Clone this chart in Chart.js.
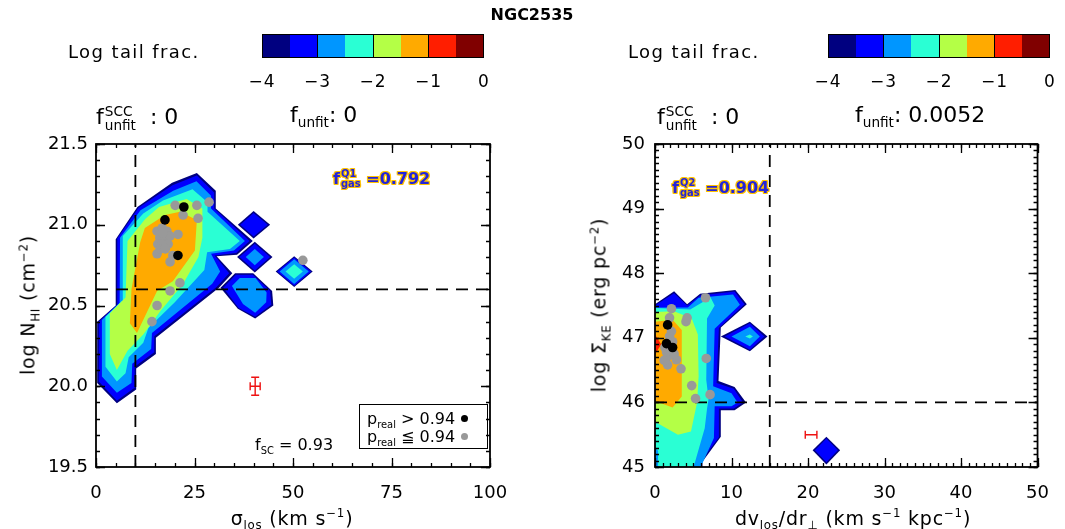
<!DOCTYPE html>
<html>
<head>
<meta charset="utf-8">
<script src="https://cdn.jsdelivr.net/npm/chart.js@4.4.0/dist/chart.umd.min.js"></script>
<style>
  body { margin: 0; background: #fff; }
  #page { position: relative; width: 1065px; height: 529px; overflow: hidden;
          font-family: 'DejaVu Sans', sans-serif; color: #000; }
  .panel { position: absolute; top: 0; height: 529px; }
  .txt { position: absolute; white-space: nowrap; line-height: 1; }
  .cbar { position: absolute; top: 34px; height: 24px; display: flex; border: 1px solid #000; box-sizing: border-box; }
  .cbar div { flex: 1; }
  .cbar div.sep { border-right: 1.5px solid #000; }
  .cbtick { position: absolute; top: 71px; font-size: 17px; transform: translateX(-50%); letter-spacing: 1px; }
  .stk { display: inline-block; vertical-align: middle; font-size: 0.62em; line-height: 1.05; margin-left: 1px; }
  .stk span { display: block; }
  sub, sup { font-size: 0.62em; line-height: 0; }
  .gas { color: #2424d8; font-weight: bold; font-size: 16px;
         text-shadow: 1px 0 #ffc400, -1px 0 #ffc400, 0 1px #ffc400, 0 -1px #ffc400,
                      1px 1px #ffc400, -1px -1px #ffc400, 1px -1px #ffc400, -1px 1px #ffc400; }
  .legend { position: absolute; left: 359px; top: 404px; width: 129px; height: 45px; border: 1px solid #000;
            box-sizing: border-box; font-size: 16px; padding: 5px 0 0 7px; line-height: 18px; }
  .dot { display: inline-block; width: 7px; height: 7px; border-radius: 50%; margin-left: 6px; vertical-align: 2px; }
  .axt { font-size: 19px; letter-spacing: 0.8px; }
</style>
</head>
<body>
<div id="page">
  <div class="panel" style="left:0;width:530px;"><canvas id="nhiChart"></canvas></div>
  <div class="panel" style="left:530px;width:535px;"><canvas id="keChart"></canvas></div>

  <div class="txt" style="left:532px;top:7px;font-weight:bold;font-size:16px;transform:translateX(-50%);">NGC2535</div>

  <div class="txt" style="left:68px;top:43px;font-size:18px;letter-spacing:1.4px;">Log tail frac.</div>
  <div class="cbar" id="cbarL" style="left:262px;width:222px;"></div>
  <div id="cbarLTicks"></div>
  <div class="txt" style="left:628px;top:43px;font-size:18px;letter-spacing:1.4px;">Log tail frac.</div>
  <div class="cbar" id="cbarR" style="left:828px;width:222px;"></div>
  <div id="cbarRTicks"></div>

  <div class="txt" style="left:96px;top:104px;font-size:22px;">f<span class="stk"><span>SCC</span><span>unfit</span></span>&nbsp;&nbsp;: 0</div>
  <div class="txt" style="left:290px;top:104px;font-size:22px;">f<sub>unfit</sub>: 0</div>
  <div class="txt" style="left:657px;top:104px;font-size:22px;">f<span class="stk"><span>SCC</span><span>unfit</span></span>&nbsp;&nbsp;: 0</div>
  <div class="txt" style="left:855px;top:104px;font-size:22px;">f<sub>unfit</sub>: 0.0052</div>

  <div class="txt gas" style="left:333px;top:169px;">f<span class="stk"><span>Q1</span><span>gas</span></span> =0.792</div>
  <div class="txt gas" style="left:672px;top:178px;">f<span class="stk"><span>Q2</span><span>gas</span></span> =0.904</div>

  <div class="txt" style="left:255px;top:437px;font-size:16px;">f<sub>SC</sub> = 0.93</div>
  <div class="legend">p<sub>real</sub> &gt; 0.94<span class="dot" style="background:#000"></span><br>p<sub>real</sub> ≦ 0.94<span class="dot" style="background:#999"></span></div>

  <div class="txt axt" style="left:28px;top:305px;transform:translate(-50%,-50%) rotate(-90deg);">log N<sub>HI</sub> (cm<sup>−2</sup>)</div>
  <div class="txt axt" style="left:292px;top:518px;transform:translate(-50%,-50%);">σ<sub>los</sub> (km s<sup>−1</sup>)</div>
  <div class="txt axt" style="left:599px;top:305px;transform:translate(-50%,-50%) rotate(-90deg);">log Σ<sub>KE</sub> (erg pc<sup>−2</sup>)</div>
  <div class="txt axt" style="left:853px;top:518px;transform:translate(-50%,-50%);">dv<sub>los</sub>/dr<sub>⊥</sub> (km s<sup>−1</sup> kpc<sup>−1</sup>)</div>
</div>

<script>
// ---- colour levels of the log tail fraction (-4 .. 0 in steps of 0.5)
const levelColors = ['#000080', '#0000ff', '#0096ff', '#2affd4', '#b4ff46', '#ffaa00', '#ff1e00', '#800000'];
const levelTicks = [-4, -3, -2, -1, 0];

// ---- left panel: sigma_los vs log N_HI, filled contours [x, y]
const nhiNavy = [[19.3,21.26],[25.6,21.32],[30.4,21.21],[30.4,21.1],[39.8,20.90],[35.8,20.815],[30.6,20.805],[34.6,20.70],[31.2,20.61],[15.2,20.30],[15.2,20.20],[10.2,20.11],[10.2,19.98],[5.3,19.895],[0.3,20.02],[0.3,20.40],[5,20.50],[5,20.91],[10.5,21.11]];
const nhiBlue = [[19.4,21.245],[25.6,21.305],[30,21.2],[30,21.1],[39,20.9],[35.6,20.825],[30.1,20.81],[33.8,20.70],[30.6,20.615],[14.8,20.31],[14.8,20.21],[9.8,20.12],[9.8,19.99],[5.3,19.91],[0.7,20.03],[0.7,20.40],[5.4,20.505],[5.4,20.915],[10.8,21.105]];
const nhiSky = [[19.6,21.21],[25.5,21.27],[29.2,21.18],[29.2,21.1],[37.8,20.9],[35,20.84],[29.2,20.82],[31.5,20.71],[29.5,20.635],[14.2,20.33],[14,20.23],[9.2,20.14],[9,20.02],[5.3,19.96],[1.5,20.06],[1.5,20.41],[6,20.515],[6.1,20.92],[11.3,21.09]];
const nhiCyan = [[17,21.15],[24.5,21.22],[28.3,21.14],[28.3,21.08],[36.5,20.9],[34,20.85],[28.2,20.83],[27.5,20.72],[20,20.52],[13.3,20.36],[12,20.27],[8.3,20.18],[7.5,20.08],[5.3,20.03],[2.4,20.12],[2.4,20.43],[6.6,20.53],[6.8,20.93],[12,21.07]];
const nhiGreen = [[16,21.11],[23,21.16],[27,21.1],[27,20.92],[26,20.8],[22,20.63],[16.5,20.47],[12,20.32],[8,20.22],[5.3,20.1],[3.5,20.2],[3.5,20.45],[7.5,20.55],[8,20.9],[12.5,21.035]];
const nhiOrange = [[21.3,21.08],[25.6,21.03],[25.1,20.84],[19.5,20.65],[15.5,20.59],[10.4,20.33],[8.6,20.39],[9,20.6],[11.2,20.89],[12.4,20.98],[17.5,21.06]];
const nhiLowNavy = [[31.6,20.61],[35.3,20.70],[39.9,20.70],[44.7,20.59],[45,20.50],[40.4,20.42],[36,20.48]];
const nhiLowBlue = [[32.3,20.61],[35.5,20.69],[39.8,20.69],[44.2,20.59],[44.5,20.505],[40.4,20.43],[36.2,20.485]];
const nhiLowSky = [[34.5,20.62],[36.5,20.67],[40.5,20.67],[43.3,20.58],[43.2,20.52],[40.4,20.455],[37.3,20.51]];
const nhiDiamA = [[[36,21.0],[40,21.085],[44.2,21.0],[40,20.915]], [[36.6,21.0],[40,21.073],[43.6,21.0],[40,20.927]]];
const nhiDiamB = [[[35.8,20.8],[40.3,20.895],[44.8,20.8],[40.3,20.705]], [[36.4,20.8],[40.3,20.883],[44.2,20.8],[40.3,20.717]], [[38,20.8],[40.3,20.85],[42.6,20.8],[40.3,20.75]]];
const nhiDiamC = [[[45.6,20.71],[50.3,20.805],[55,20.71],[50.3,20.615]], [[46,20.71],[50.3,20.797],[54.6,20.71],[50.3,20.623]], [[46.6,20.71],[50.3,20.787],[54,20.71],[50.3,20.633]], [[48.1,20.71],[50.3,20.755],[52.5,20.71],[50.3,20.665]]];
const nhiGray = [[20.1,21.12],[25.6,21.12],[25.9,21.04],[28.7,21.14],[22.1,21.06],[15.5,20.96],[16.8,20.98],[18.0,20.96],[16.2,20.92],[17.5,20.92],[18.8,20.93],[20.8,20.94],[15.7,20.88],[18.3,20.88],[16.8,20.88],[15.5,20.82],[19.5,20.81],[18.8,20.77],[21.3,20.64],[18.8,20.59],[15.5,20.50],[14.2,20.40],[52.5,20.78],[17,20.95],[16.3,20.85],[17.6,20.85]];
const nhiBlack = [[22.3,21.11],[17.5,21.03],[20.8,20.81]];
const nhiCut = [10, 20.6];
const nhiErr = [40.4, 20.0, 1.27, 0.056];

// ---- right panel: dv/dr vs log Sigma_KE
const keNavy = [[0,47.52],[2.5,47.72],[4.2,47.52],[5.9,47.68],[10.5,47.74],[12.0,47.52],[8.6,47.16],[8.3,46.33],[10.4,46.24],[11.9,46.0],[10.4,45.88],[8.6,45.88],[8.6,45.47],[6.2,45.08],[6.2,44.9],[0,44.9]];
const keBlue = [[0,47.5],[2.5,47.69],[4.2,47.5],[5.9,47.655],[10.4,47.715],[11.7,47.52],[8.35,47.15],[8.05,46.3],[10.3,46.21],[11.5,46.0],[10.3,45.905],[8.35,45.905],[8.35,45.46],[5.95,45.08],[5.95,44.9],[0,44.9]];
const keSky = [[0,47.47],[4.3,47.47],[5.7,47.62],[10.2,47.67],[11.1,47.51],[7.8,47.14],[7.6,46.25],[10,46.14],[10.8,46.0],[10,45.94],[7.8,45.94],[7.7,45.45],[5.6,44.9],[0,44.9]];
const keCyan = [[0,47.46],[4.6,47.44],[6.2,47.55],[7.2,47.64],[7.8,47.5],[6.8,47.3],[6.7,46.35],[7.0,46.05],[6.8,45.9],[6.5,45.6],[4.8,44.9],[0.4,44.9],[0.4,45.25],[0,45.3]];
const keGreen = [[0,47.4],[2.5,47.41],[4.8,47.3],[5.6,47.05],[5.7,46.4],[5.5,46.0],[4.7,45.55],[3.0,45.5],[0,45.7]];
const keOrange = [[0,47.25],[2.3,47.28],[3.5,47.12],[3.5,46.09],[2.3,45.92],[0,46.02]];
const keRed = [[0,47.05],[0.8,46.9],[0,46.74]];
const keDiamA = [[[8.6,47.02],[12.4,47.25],[14.7,47.02],[12.4,46.79]], [[9.1,47.02],[12.4,47.225],[14.3,47.02],[12.4,46.815]], [[10,47.02],[12.4,47.17],[13.7,47.02],[12.4,46.87]], [[11.8,47.02],[12.4,47.05],[12.8,47.02],[12.4,46.99]]];
const keDiamB = [[[20.6,45.26],[22.4,45.47],[24.2,45.26],[22.4,45.04]], [[20.9,45.26],[22.4,45.44],[23.9,45.26],[22.4,45.075]]];
const keGray = [[2.15,47.45],[1.9,47.31],[4.2,47.31],[4.05,47.25],[2.15,47.10],[1.9,47.02],[2.3,46.94],[2.15,46.82],[1.65,46.71],[2.8,46.66],[1.65,46.58],[3.4,46.52],[6.7,46.68],[4.8,46.26],[5.3,46.06],[7.2,46.12],[6.6,47.62],[1.3,46.85],[1.5,46.78],[2.5,46.75],[1.2,46.65]];
const keBlack = [[1.65,47.2],[1.5,46.91],[2.3,46.85]];
const keCut = [15, 46];
const keErr = [20.4, 45.5, 0.76, 0];

// ---- colour bars
function buildColorbar(id, ticksId, left, width) {
    const bar = document.getElementById(id);
    levelColors.forEach((c, i) => {
        const d = document.createElement('div');
        d.style.background = c;
        if (i % 2 === 1 && i < levelColors.length - 1) d.className = 'sep';
        bar.appendChild(d);
    });
    const holder = document.getElementById(ticksId);
    levelTicks.forEach(t => {
        const s = document.createElement('div');
        s.className = 'cbtick';
        s.style.left = (left + (t - levelTicks[0]) / (levelTicks[levelTicks.length - 1] - levelTicks[0]) * width) + 'px';
        s.textContent = t < 0 ? '\u2212' + Math.abs(t) : String(t);
        holder.appendChild(s);
    });
}
buildColorbar('cbarL', 'cbarLTicks', 262, 222);
buildColorbar('cbarR', 'cbarRTicks', 828, 222);

// ---- chart helpers
Chart.defaults.font.family = "'DejaVu Sans', sans-serif";
Chart.defaults.font.size = 18;
Chart.defaults.color = '#000';

const toXY = pts => pts.map(([x, y]) => ({ x, y }));

function area(points, level, order) {
    return {
        data: toXY(points), showLine: true, fill: 'shape', tension: 0,
        backgroundColor: levelColors[level], borderColor: 'rgba(0,0,0,0)', borderWidth: 0,
        pointRadius: 0, order: order
    };
}

function nested(polys, order) {
    return polys.map((p, i) => area(p, i, order - i));
}

function dots(points, color, order) {
    return { data: toXY(points), pointRadius: 4.8, pointBackgroundColor: color, pointBorderWidth: 0, order: order };
}

function cutLines(cut, xr, yr) {
    const base = { showLine: true, borderColor: '#000', borderWidth: 1.8, borderDash: [12, 8], pointRadius: 0, fill: false, order: 5 };
    return [
        Object.assign({ data: [{ x: cut[0], y: yr[0] }, { x: cut[0], y: yr[1] }] }, base),
        Object.assign({ data: [{ x: xr[0], y: cut[1] }, { x: xr[1], y: cut[1] }] }, base)
    ];
}

// frame, inward major/minor ticks on all four sides, and the error cross
const frameTicks = {
    id: 'frameTicks',
    afterDatasetsDraw(chart, args, opts) {
        const { ctx, chartArea: a, scales: { x, y } } = chart;
        ctx.save();
        ctx.strokeStyle = '#000';
        ctx.lineWidth = 1.3;
        const marks = (scale, step, len, horiz) => {
            const n = Math.round((scale.max - scale.min) / step);
            ctx.beginPath();
            for (let i = 0; i <= n; i++) {
                const p = Math.round(scale.getPixelForValue(scale.min + i * step)) + 0.5;
                if (horiz) {
                    ctx.moveTo(p, a.bottom); ctx.lineTo(p, a.bottom - len);
                    ctx.moveTo(p, a.top); ctx.lineTo(p, a.top + len);
                } else {
                    ctx.moveTo(a.left, p); ctx.lineTo(a.left + len, p);
                    ctx.moveTo(a.right, p); ctx.lineTo(a.right - len, p);
                }
            }
            ctx.stroke();
        };
        marks(x, opts.xMinor, 4, true);
        marks(x, opts.xMajor, 9, true);
        marks(y, opts.yMinor, 4, false);
        marks(y, opts.yMajor, 9, false);
        ctx.lineWidth = 1.8;
        ctx.strokeRect(a.left, a.top, a.width, a.height);

        // error bar marker
        const [ex, ey, dx, dy] = opts.err;
        const cx = x.getPixelForValue(ex), cy = y.getPixelForValue(ey);
        const x0 = x.getPixelForValue(ex - dx), x1 = x.getPixelForValue(ex + dx);
        const y0 = y.getPixelForValue(ey - dy), y1 = y.getPixelForValue(ey + dy);
        const cap = 4;
        ctx.strokeStyle = '#ee1111';
        ctx.lineWidth = 1.4;
        ctx.beginPath();
        ctx.moveTo(x0, cy); ctx.lineTo(x1, cy);
        ctx.moveTo(x0, cy - cap); ctx.lineTo(x0, cy + cap);
        ctx.moveTo(x1, cy - cap); ctx.lineTo(x1, cy + cap);
        if (dy > 0) {
            ctx.moveTo(cx, y0); ctx.lineTo(cx, y1);
            ctx.moveTo(cx - cap, y0); ctx.lineTo(cx + cap, y0);
            ctx.moveTo(cx - cap, y1); ctx.lineTo(cx + cap, y1);
        }
        ctx.stroke();
        ctx.restore();
    }
};

function makeChart(id, cfg) {
    return new Chart(document.getElementById(id), {
        type: 'scatter',
        data: { datasets: cfg.datasets },
        options: {
            responsive: true,
            maintainAspectRatio: false,
            animation: false,
            events: [],
            layout: { padding: { left: 0, top: 144, right: cfg.padRight, bottom: 0 } },
            plugins: {
                legend: { display: false },
                tooltip: { enabled: false },
                frameTicks: cfg.ticks
            },
            scales: {
                x: {
                    type: 'linear', min: cfg.xr[0], max: cfg.xr[1],
                    grid: { display: false, drawTicks: false },
                    border: { display: false },
                    ticks: { stepSize: cfg.ticks.xMajor, padding: 16, maxRotation: 0, autoSkip: false },
                    afterFit: s => { s.height = 62; }
                },
                y: {
                    type: 'linear', min: cfg.yr[0], max: cfg.yr[1],
                    grid: { display: false, drawTicks: false },
                    border: { display: false },
                    ticks: { stepSize: cfg.ticks.yMajor, padding: cfg.yPad, autoSkip: false, callback: cfg.yFmt },
                    afterFit: s => { s.width = cfg.yWidth; }
                }
            }
        },
        plugins: [frameTicks]
    });
}

// ---- left panel
const nhiXR = [0, 100], nhiYR = [19.5, 21.5];
makeChart('nhiChart', {
    xr: nhiXR, yr: nhiYR, padRight: 40, yWidth: 96, yPad: 8,
    yFmt: v => v.toFixed(1),
    ticks: { xMajor: 25, xMinor: 5, yMajor: 0.5, yMinor: 0.1, err: nhiErr },
    datasets: [
        ...nested([nhiNavy, nhiBlue, nhiSky, nhiCyan, nhiGreen, nhiOrange], 60),
        ...nested([nhiLowNavy, nhiLowBlue, nhiLowSky], 60),
        ...nested(nhiDiamA, 60),
        ...nested(nhiDiamB, 60),
        ...nested(nhiDiamC, 60),
        ...cutLines(nhiCut, nhiXR, nhiYR),
        dots(nhiGray, '#999999', 2),
        dots(nhiBlack, '#000000', 1)
    ]
});

// ---- right panel
const keXR = [0, 50], keYR = [45, 50];
makeChart('keChart', {
    xr: keXR, yr: keYR, padRight: 15, yWidth: 125, yPad: 10,
    yFmt: v => String(v),
    ticks: { xMajor: 10, xMinor: 1, yMajor: 1, yMinor: 0.1, err: keErr },
    datasets: [
        ...nested([keNavy, keBlue, keSky, keCyan, keGreen, keOrange, keRed], 60),
        ...nested(keDiamA, 60),
        ...nested(keDiamB, 60),
        ...cutLines(keCut, keXR, keYR),
        dots(keGray, '#999999', 2),
        dots(keBlack, '#000000', 1)
    ]
});
</script>
</body>
</html>
